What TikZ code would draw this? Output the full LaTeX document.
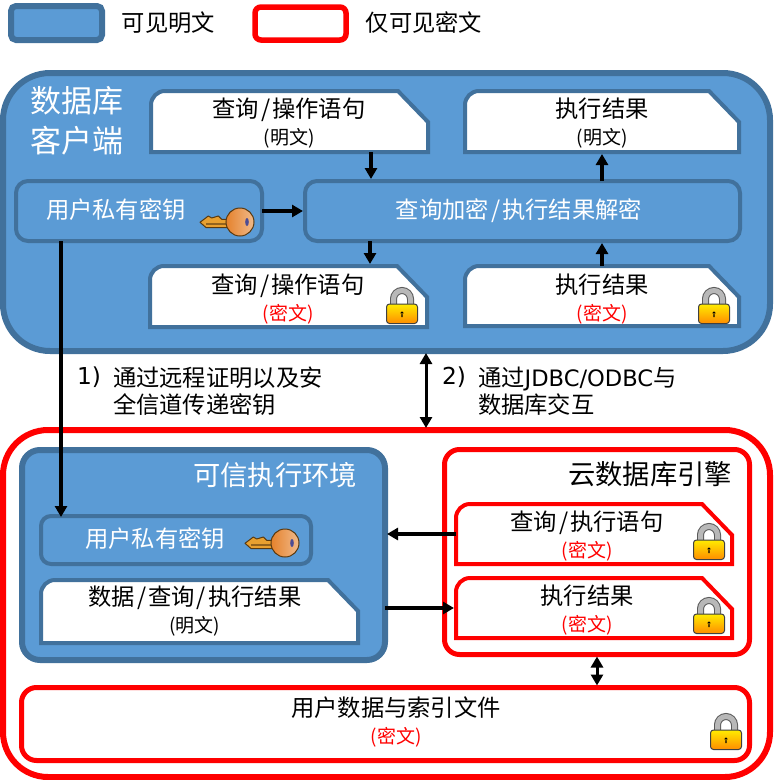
\documentclass[tikz,border=0pt]{standalone}
\usepackage{fontspec}
\setmainfont{Noto Sans CJK SC}
\newfontfamily\latinfont{DejaVu Sans}
\usetikzlibrary{arrows.meta}

% note with a snipped corner, only the upper left one is round
\newdimen\notexa \newdimen\noteya \newdimen\notexb \newdimen\noteyb
\makeatletter
\pgfdeclareshape{snipnote}{
    \inheritsavedanchors[from=rectangle]
    \inheritanchorborder[from=rectangle]
    \inheritanchor[from=rectangle]{center}
    \inheritanchor[from=rectangle]{north}
    \inheritanchor[from=rectangle]{south}
    \inheritanchor[from=rectangle]{east}
    \inheritanchor[from=rectangle]{west}
    \backgroundpath{
        \southwest \notexa=\pgf@x \noteya=\pgf@y
        \northeast \notexb=\pgf@x \noteyb=\pgf@y
        \pgfpathmoveto{\pgfqpoint{\notexa}{\noteya}}
        \pgfpathlineto{\pgfpoint{\notexa}{\noteyb-14pt}}
        \pgfpatharc{180}{90}{14pt}
        \pgfpathlineto{\pgfpoint{\notexb-30pt}{\noteyb}}
        \pgfpathlineto{\pgfpoint{\notexb}{\noteyb-31pt}}
        \pgfpathlineto{\pgfqpoint{\notexb}{\noteya}}
        \pgfpathclose
    }
}
\makeatother

\newcommand{\subtext}[1]{{\fontsize{19}{27}\selectfont #1}}
\newcommand{\wideslash}{\kern2pt/\kern2pt}

\definecolor{plainfill}{HTML}{5B9BD5}
\definecolor{plainedge}{HTML}{41719C}
\definecolor{keybow}{HTML}{E5822C}
\definecolor{keygold}{HTML}{E8A030}
\definecolor{keyedge}{HTML}{5A3A10}

\tikzset{
    basebox/.style={inner sep=0pt, outer sep=0pt, align=center, font=\fontsize{23.3}{27}\selectfont},
    plainbox/.style={basebox, rectangle, rounded corners=#1, draw=plainedge, fill=plainfill, line width=4pt},
    cipherbox/.style={basebox, rectangle, rounded corners=#1, draw=red, fill=white, line width=5pt},
    plainnote/.style={basebox, snipnote, draw=plainedge, fill=white, line width=4pt},
    ciphernote/.style={basebox, snipnote, draw=red, fill=white, line width=4pt},
    plaintext/.style={basebox, yshift=-1.5pt},
    titletext/.style={plaintext, font=\fontsize{27.3}{32}\selectfont},
    arrowline/.style={-{Triangle[length=11pt,width=12pt]}, line width=4pt, shorten >=2pt},
    twoway/.style={{Triangle[length=11pt,width=12pt]}-{Triangle[length=11pt,width=12pt]}, line width=3pt, shorten >=2pt, shorten <=2pt},
    lockicon/.pic={
        % shackle
        \draw[line width=7pt, draw=black!65] (7.5,20) -- (7.5,12) arc (180:360:8.5) -- (24.5,20);
        \draw[line width=5pt, draw=black!28] (7.5,20) -- (7.5,12) arc (180:360:8.5) -- (24.5,20);
        % body
        \draw[rounded corners=3pt, draw=black!75, line width=1pt, top color=yellow!85!orange, bottom color=orange!90!yellow]
            (0.5,17) rectangle (31.5,36.5);
        \fill (16,26) circle (1.6) (15.4,26) rectangle (16.6,30);
    },
    keyicon/.pic={
        % bit and shaft
        \draw[line width=1pt, draw=keyedge, fill=keygold, line join=round]
            (2,15.3) -- (10.3,9) -- (13.7,11) -- (20.3,9) -- (23.7,12.3) -- (32,12.3)
            -- (32,20.5) -- (8,20.5) -- cycle;
        \draw[line width=1.5pt, draw=keyedge!60!keygold] (8,17) -- (30,17);
        % bow
        \draw[line width=1pt, draw=keyedge, left color=keybow, right color=keybow!55!white]
            (42,15) ellipse (14 and 14);
        \fill[black!60!blue!70!white] (49,15) ellipse (1.8 and 4);
    }
}

\begin{document}
\begin{tikzpicture}[x=1pt, y=-1pt]
    \useasboundingbox (0,0) rectangle (774,780);

    % legend
    \node[plainbox=5pt, line width=6pt, minimum width=91pt, minimum height=34pt] (legendplain) at (56.5,23) {};
    \node[cipherbox=6pt, line width=5.5pt, minimum width=91pt, minimum height=33pt] (legendcipher) at (300.5,23.5) {};
    \node[plaintext] (legendplaintext) at (168.5,21) {可见明文};
    \node[plaintext] (legendciphertext) at (424,21) {仅可见密文};

    % client
    \node[plainbox=47pt, line width=6pt, minimum width=767pt, minimum height=278pt] (client) at (386.5,212) {};
    \node[plaintext, text=white, font=\fontsize{31}{40}\selectfont] (clienttitle) at (77,119) {数据库\\客户端};
    \node[plainnote, minimum width=277pt, minimum height=61pt] (qplain) at (289.5,121.5) {};
    \node[plaintext] (qplaintext) at (289,121.5) {查询\wideslash 操作语句\\\subtext{(明文)}};
    \node[plainnote, minimum width=274pt, minimum height=61pt] (execplain) at (602,121.5) {};
    \node[plaintext] (execplaintext) at (602,121.5) {执行结果\\\subtext{(明文)}};
    \node[plainbox=12pt, minimum width=246pt, minimum height=60pt] (userkey) at (139,211) {};
    \node[plaintext, text=white] (userkeytext) at (116,208) {用户私有密钥};
    \node[plainbox=12pt, minimum width=435pt, minimum height=60pt] (crypt) at (522.5,211) {};
    \node[plaintext, text=white] (crypttext) at (519,209) {查询加密\wideslash 执行结果解密};
    \node[plainnote, minimum width=277pt, minimum height=61pt] (qcipher) at (288.5,296.5) {};
    \node[plaintext] (qciphertext) at (288,298) {查询\wideslash 操作语句\\\subtext{\textcolor{red}{(密文)}}};
    \node[plainnote, minimum width=274pt, minimum height=60pt] (execcipher) at (602,296) {};
    \node[plaintext] (execciphertext) at (602,298) {执行结果\\\subtext{\textcolor{red}{(密文)}}};
    \pic at (198,207) {keyicon};
    \pic at (386,287) {lockicon};
    \pic at (698,287) {lockicon};

    % cloud side
    \node[cipherbox=45pt, line width=6pt, minimum width=767pt, minimum height=347pt] (cloud) at (386.5,603.5) {};
    \node[plainbox=18pt, line width=6pt, minimum width=363pt, minimum height=210pt] (tee) at (203.5,555) {};
    \node[titletext, text=white] (teetitle) at (275,474) {可信执行环境};
    \node[plainbox=10pt, minimum width=270pt, minimum height=48pt] (teekey) at (176,540) {};
    \node[plaintext, text=white] (teekeytext) at (155,537.5) {用户私有密钥};
    \node[plainnote, minimum width=317pt, minimum height=63pt] (dataplain) at (199.5,611.5) {};
    \node[plaintext] (dataplaintext) at (195,609.5) {数据\wideslash 查询\wideslash 执行结果\\\subtext{(明文)}};
    \pic at (243,528) {keyicon};

    \node[cipherbox=15pt, minimum width=305pt, minimum height=205pt] (engine) at (597,552) {};
    \node[titletext] (enginetitle) at (650,473) {云数据库引擎};
    \node[ciphernote, minimum width=276pt, minimum height=60pt] (qcloud) at (594,534) {};
    \node[plaintext] (qcloudtext) at (587,534.5) {查询\wideslash 执行语句\\\subtext{\textcolor{red}{(密文)}}};
    \node[ciphernote, minimum width=276pt, minimum height=60pt] (execcloud) at (594,608) {};
    \node[plaintext] (execcloudtext) at (587,608.5) {执行结果\\\subtext{\textcolor{red}{(密文)}}};
    \node[cipherbox=15pt, minimum width=728pt, minimum height=73pt] (datafile) at (385.5,724) {};
    \node[plaintext] (datafiletext) at (396,720.5) {用户数据与索引文件\\\subtext{\textcolor{red}{(密文)}}};
    \pic at (693,523) {lockicon};
    \pic at (693,597) {lockicon};
    \pic at (710,713) {lockicon};

    % arrows inside the client
    \draw[arrowline] ([xshift=81.5pt]qplain.south) coordinate (qdown) -- (qdown |- crypt.north);
    \draw[arrowline] (crypt.north -| execplain.south) -- (execplain.south);
    \draw[arrowline] (userkey.east) -- (crypt.west);
    \draw[arrowline] ([xshift=-152.5pt]crypt.south) coordinate (cdown) -- (cdown |- qcipher.north);
    \draw[arrowline] (execcipher.north) -- (crypt.south -| execcipher.north);

    % key path and link to the cloud
    \draw[arrowline, shorten >=-1pt] ([xshift=-78pt]userkey.south) coordinate (kdown) -- (kdown |- teekey.north);
    \draw[twoway] ([xshift=39.5pt]client.south) coordinate (cdb) -- (cdb |- cloud.north);
    \node[plaintext, anchor=west] (stepone) at (77,376) {\latinfont 1)};
    \node[plaintext, align=left, anchor=west] (steponetext) at (113,389.5) {通过远程证明以及安\\全信道传递密钥};
    \node[plaintext, anchor=west] (steptwo) at (442,376) {\latinfont 2)};
    \node[plaintext, align=left, anchor=west] (steptwotext) at (478,389.5) {通过{\latinfont\fontsize{22.6}{27}\selectfont JDBC/ODBC}与\\数据库交互};

    % arrows inside the cloud
    \draw[arrowline] (qcloud.west) -- (tee.east |- qcloud.west);
    \draw[arrowline] (tee.east |- execcloud.west) -- (execcloud.west);
    \draw[twoway] (engine.south) -- (engine.south |- datafile.north);
\end{tikzpicture}
\end{document}
